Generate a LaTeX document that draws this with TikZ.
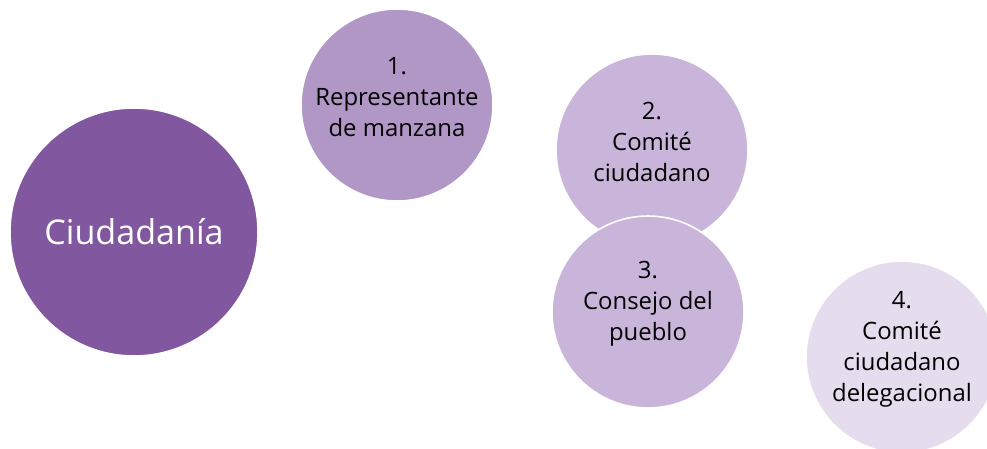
\documentclass[tikz,border=0pt]{standalone}
\usepackage{fontspec}
\setmainfont{Open Sans}
\usetikzlibrary{positioning}

\definecolor{moradoA}{RGB}{129,87,160}
\definecolor{moradoB}{RGB}{177,151,198}
\definecolor{moradoC}{RGB}{201,181,217}
\definecolor{moradoD}{RGB}{229,221,237}

\begin{document}
\begin{tikzpicture}[x=0.02cm, y=-0.02cm,
		circulo/.style={circle, draw=white, line width=0.9pt, inner sep=0pt,
			minimum size=192*0.02cm},
		texto/.style={align=center, text=black, yshift=0.16cm,
			font=\fontsize{13.6}{17.6}\selectfont},
		circulo grande/.style={circulo, minimum size=248*0.02cm,
			font=\fontsize{19.4}{23}\selectfont, text=white}]
		% marco del dibujo (987 x 449)
		\useasboundingbox (0,0) rectangle (987,449);
		
		% circulo principal
		\node[circulo grande, fill=moradoA] (ciudadania) at (134,232) {Ciudadanía};
		
		% circulos de los niveles (el texto va un poco arriba del centro)
		\node[circulo, fill=moradoB, label={[texto]center:1.\\Representante\\de manzana}] (nivel1) at (397,105) {};
		\node[circulo, fill=moradoC, label={[texto]center:2.\\Comité\\ciudadano}] (nivel2) at (652,150) {};
		\node[circulo, fill=moradoC, label={[texto]center:3.\\Consejo del\\pueblo}] (nivel3) at (648,312) {};
		\node[circulo, fill=moradoD, label={[texto]center:4.\\Comité\\ciudadano\\delegacional}] (nivel4) at (902,357) {};
	\end{tikzpicture}
\end{document}
